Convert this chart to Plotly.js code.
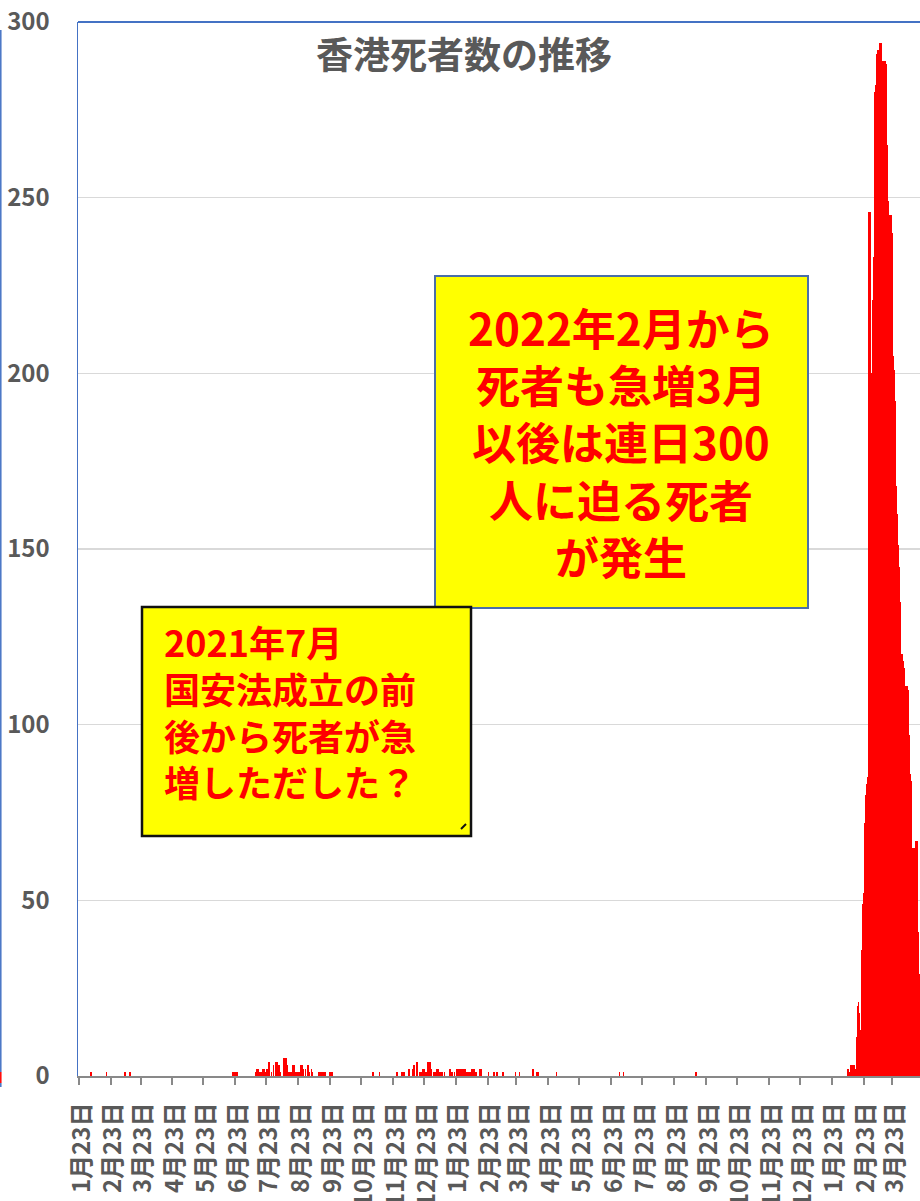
<!DOCTYPE html>
<html>
<head>
<meta charset="utf-8">
<script src="https://cdn.plot.ly/plotly-3.0.1.min.js"></script>
<style>
html,body{margin:0;padding:0;background:#fff;}
#chart{width:920px;height:1201px;}
</style>
</head>
<body>
<div id="chart"></div>
<script>
// ---- data ----
const dates2020 = ['2020-02-04','2020-02-19','2020-03-08','2020-03-13',
 '2020-06-21','2020-06-22','2020-06-23','2020-06-24','2020-06-25',
 '2020-07-13','2020-07-14','2020-07-15','2020-07-16','2020-07-17','2020-07-18','2020-07-20','2020-07-21','2020-07-22','2020-07-24','2020-07-26','2020-07-28','2020-07-30',
 '2020-08-01','2020-08-02','2020-08-03','2020-08-04','2020-08-05','2020-08-06','2020-08-09','2020-08-10','2020-08-11','2020-08-12','2020-08-14','2020-08-16','2020-08-18','2020-08-19','2020-08-21','2020-08-23','2020-08-24','2020-08-26','2020-08-27','2020-08-28','2020-08-30',
 '2020-09-01','2020-09-02','2020-09-03','2020-09-05','2020-09-06','2020-09-12','2020-09-14','2020-09-16','2020-09-18','2020-09-23','2020-09-25',
 '2020-11-04','2020-11-10','2020-11-27','2020-12-02','2020-12-04','2020-12-08','2020-12-09','2020-12-12','2020-12-13','2020-12-14','2020-12-16','2020-12-17','2020-12-19','2020-12-20','2020-12-22','2020-12-23','2020-12-24','2020-12-25','2020-12-27','2020-12-28','2020-12-29','2020-12-30'];
const deaths2020 = [1,1,1,1,
 1,1,1,1,1,
 1,2,2,1,1,1,2,2,1,2,4,1,3,
 4,4,4,3,3,1,5,4,5,3,1,1,3,3,1,1,1,3,3,2,2,
 3,3,1,2,1,1,1,1,1,1,1,
 1,1,1,1,1,2,2,2,3,3,4,4,1,1,2,2,1,1,4,4,4,2];

const dates2021 = ['2021-01-02','2021-01-03','2021-01-05','2021-01-06','2021-01-08','2021-01-10','2021-01-12','2021-01-17','2021-01-18','2021-01-19','2021-01-20','2021-01-22',
 '2021-01-24','2021-01-25','2021-01-26','2021-01-27','2021-01-28','2021-01-29','2021-01-30','2021-01-31','2021-02-01','2021-02-02','2021-02-04','2021-02-06',
 '2021-02-08','2021-02-09','2021-02-10','2021-02-11','2021-02-12','2021-02-15','2021-02-16','2021-02-17','2021-02-24','2021-03-01','2021-03-04','2021-03-10',
 '2021-03-22','2021-03-26','2021-04-08','2021-04-12','2021-04-13','2021-05-01','2021-07-01','2021-07-05','2021-09-13'];
const deaths2021 = [1,1,2,2,1,1,1,2,2,1,1,1,
 2,2,1,2,2,2,1,2,2,1,1,1,
 2,2,2,1,1,2,2,2,1,1,1,1,
 1,1,2,1,1,1,1,1,1];

const dates2022 = ['2022-02-08','2022-02-09','2022-02-10','2022-02-11','2022-02-12','2022-02-13','2022-02-14','2022-02-15','2022-02-16','2022-02-17','2022-02-18','2022-02-19','2022-02-20','2022-02-21','2022-02-22','2022-02-23','2022-02-24','2022-02-25','2022-02-26','2022-02-27','2022-02-28',
 '2022-03-01','2022-03-02','2022-03-03','2022-03-04','2022-03-05','2022-03-06','2022-03-07','2022-03-08','2022-03-09','2022-03-10','2022-03-11','2022-03-12','2022-03-13','2022-03-14','2022-03-15','2022-03-16','2022-03-17','2022-03-18','2022-03-19','2022-03-20','2022-03-21','2022-03-22','2022-03-23','2022-03-24','2022-03-25','2022-03-26','2022-03-27','2022-03-28','2022-03-29','2022-03-30','2022-03-31',
 '2022-04-01','2022-04-02','2022-04-03','2022-04-04','2022-04-05','2022-04-06','2022-04-07','2022-04-08','2022-04-09','2022-04-10','2022-04-11','2022-04-12','2022-04-13','2022-04-14','2022-04-15','2022-04-16','2022-04-17','2022-04-18'];
const deaths2022 = [2,1,1,3,2,3,3,2,11,20,21,18,13,36,49,52,72,80,83,85,246,
 246,198,200,221,233,280,282,291,292,291,294,294,286,289,289,289,288,265,249,245,245,245,240,205,201,192,168,160,151,145,135,
 120,118,116,111,90,111,110,97,86,84,65,59,65,65,67,67,41,29];

const tickDates = ['2020-01-23','2020-02-23','2020-03-23','2020-04-23','2020-05-23','2020-06-23','2020-07-23','2020-08-23','2020-09-23','2020-10-23','2020-11-23','2020-12-23',
 '2021-01-23','2021-02-23','2021-03-23','2021-04-23','2021-05-23','2021-06-23','2021-07-23','2021-08-23','2021-09-23','2021-10-23','2021-11-23','2021-12-23',
 '2022-01-23','2022-02-23','2022-03-23'];
const tickLabels = ['1月23日','2月23日','3月23日','4月23日','5月23日','6月23日','7月23日','8月23日','9月23日','10月23日','11月23日','12月23日',
 '1月23日','2月23日','3月23日','4月23日','5月23日','6月23日','7月23日','8月23日','9月23日','10月23日','11月23日','12月23日',
 '1月23日','2月23日','3月23日'];

const chartTitle = '香港死者数の推移';
const noteBig = ['2022年2月から','死者も急増3月','以後は連日300','人に迫る死者','が発生'];
const noteSmall = ['2021年7月','国安法成立の前','後から死者が急','増しただした？'];

// ---- layout helpers (pixel -> paper) ----
const L = 78, R = 920, T = 22, B = 1076;
const px = v => (v - L) / (R - L);
const py = v => (B - v) / (B - T);
const FONT = '"Noto Sans CJK JP", "Noto Sans", sans-serif';

const trace = {
  type: 'bar',
  x: dates2020.concat(dates2021, dates2022),
  y: deaths2020.concat(deaths2021, deaths2022),
  marker: {color: '#ff0000', line: {width: 0}},
  width: 86400000 * 1.6,
  hoverinfo: 'x+y'
};

const layout = {
  width: 920, height: 1201,
  margin: {l: L, r: 920 - R, t: T, b: 1201 - B, pad: 0},
  paper_bgcolor: '#ffffff', plot_bgcolor: '#ffffff',
  showlegend: false,
  bargap: 0,
  title: {
    text: chartTitle,
    font: {family: FONT, size: 37, color: '#595959', weight: 'bold'},
    xref: 'container', yref: 'container',
    x: 464 / 920, xanchor: 'center',
    y: 1 - 56 / 1201, yanchor: 'middle'
  },
  xaxis: {
    type: 'date',
    range: ['2020-01-22 07:00', '2022-04-18 19:00'],
    tickmode: 'array', tickvals: tickDates, ticktext: tickLabels,
    tickangle: -90,
    tickfont: {family: FONT, size: 24, color: '#595959', weight: 'bold'},
    ticks: 'outside', ticklen: 7, tickwidth: 2, tickcolor: '#898989',
    ticklabelstandoff: 8, ticklabelshift: 3,
    showline: true, linecolor: '#898989', linewidth: 2,
    showgrid: false, zeroline: false, fixedrange: true
  },
  yaxis: {
    range: [0, 300], dtick: 50, tick0: 0,
    tickfont: {family: FONT, size: 24, color: '#595959', weight: 'bold'},
    ticks: '', ticklabelstandoff: 22,
    showline: true, linecolor: '#4472c4', linewidth: 1.5,
    showgrid: true, gridcolor: '#d9d9d9', gridwidth: 1.5,
    zeroline: false, fixedrange: true
  },
  shapes: [
    {type: 'line', xref: 'paper', yref: 'paper', x0: 0, x1: 1, y0: 1, y1: 1, line: {color: '#4472c4', width: 2}},
    {type: 'line', xref: 'paper', yref: 'paper', x0: px(0.8), x1: px(0.8), y0: py(30), y1: py(1072), line: {color: '#4472c4', width: 1.5}},
    {type: 'line', xref: 'paper', yref: 'paper', x0: px(0.8), x1: px(0.8), y0: py(1072), y1: py(1083), line: {color: '#ff0000', width: 1.5}},
    {type: 'line', xref: 'paper', yref: 'paper', x0: px(0.8), x1: px(0.8), y0: py(1083), y1: py(1087), line: {color: '#4472c4', width: 1.5}},
    {type: 'rect', xref: 'paper', yref: 'paper', x0: px(435), x1: px(808), y0: py(608), y1: py(276),
     fillcolor: '#ffff00', line: {color: '#4a6ea8', width: 2}, layer: 'above'},
    {type: 'rect', xref: 'paper', yref: 'paper', x0: px(142), x1: px(471), y0: py(836), y1: py(607),
     fillcolor: '#ffff00', line: {color: '#111111', width: 2.5}, layer: 'above'},
    {type: 'line', xref: 'paper', yref: 'paper', x0: px(461), x1: px(466), y0: py(829), y1: py(824), line: {color: '#111111', width: 2}}
  ],
  annotations: [
    {xref: 'paper', yref: 'paper', x: px(621), y: py(442), xanchor: 'center', yanchor: 'middle',
     text: noteBig.join('<br>'), showarrow: false, align: 'center',
     font: {family: FONT, size: 44, color: '#ff0000', weight: 'bold'}},
    {xref: 'paper', yref: 'paper', x: px(162), y: py(711), xanchor: 'left', yanchor: 'middle',
     text: noteSmall.join('<br>'), showarrow: false, align: 'left',
     font: {family: FONT, size: 36, color: '#ff0000', weight: 'bold'}}
  ]
};

Plotly.newPlot('chart', [trace], layout, {displayModeBar: false, staticPlot: true});
</script>
</body>
</html>
